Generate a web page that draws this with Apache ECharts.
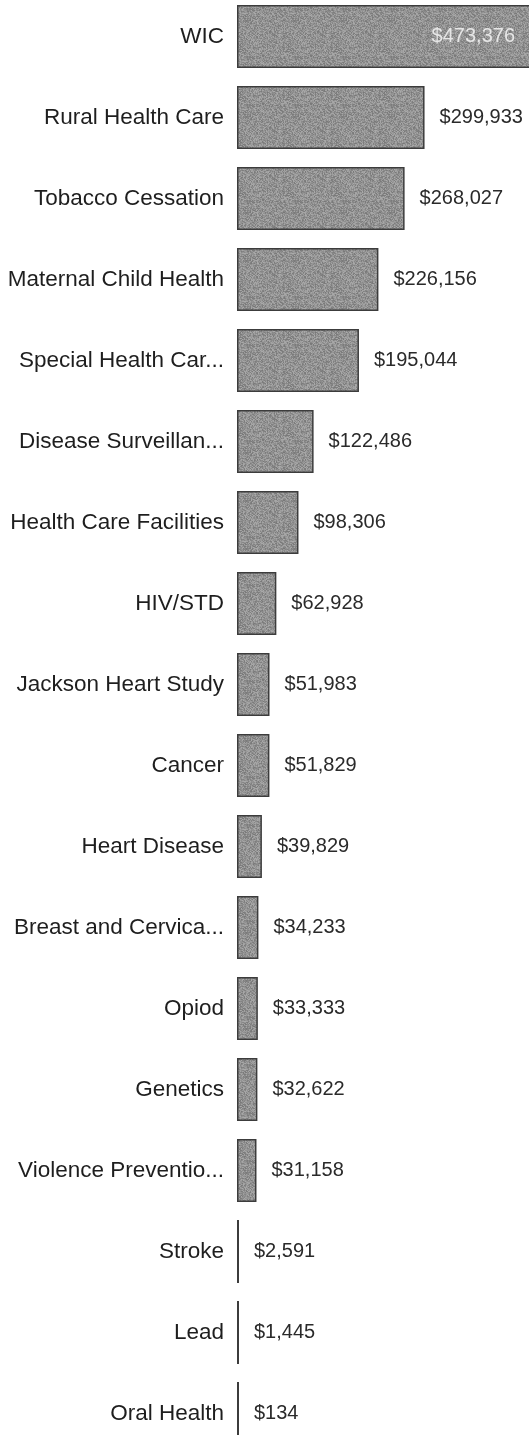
<!DOCTYPE html>
<html>
<head>
<meta charset="utf-8">
<script src="https://cdn.jsdelivr.net/npm/echarts@6/dist/echarts.min.js"></script>
<style>
  html, body { margin: 0; padding: 0; background: #ffffff; overflow: hidden; }
  /* chart box a bit bigger than the window: the scan cuts off the WIC bar and the bottom row */
  #funding { position: absolute; left: 0; top: -4px; width: 533px; height: 1458px; }
</style>
</head>
<body>
<div id="funding"></div>
<script>
// program names as printed (already cut off in the picture)
var programs = ['WIC', 'Rural Health Care', 'Tobacco Cessation', 'Maternal Child Health',
    'Special Health Car...', 'Disease Surveillan...', 'Health Care Facilities', 'HIV/STD',
    'Jackson Heart Study', 'Cancer', 'Heart Disease', 'Breast and Cervica...', 'Opiod',
    'Genetics', 'Violence Preventio...', 'Stroke', 'Lead', 'Oral Health'];
var amounts = [473376, 299933, 268027, 226156, 195044, 122486, 98306, 62928,
    51983, 51829, 39829, 34233, 33333, 32622, 31158, 2591, 1445, 134];
var xMax = 473376;

function money(v) {
    return '$' + v.toString().replace(/\B(?=(\d{3})+(?!\d))/g, ',');
}

// grainy photocopy look for the bar fill (fixed hash, no randomness)
function grain() {
    var c = document.createElement('canvas');
    c.width = 48; c.height = 48;
    var ctx = c.getContext('2d');
    var img = ctx.createImageData(48, 48);
    for (var y = 0; y < 48; y++) {
        for (var x = 0; x < 48; x++) {
            var h = Math.sin(x * 12.9898 + y * 78.233) * 43758.5453;
            h = h - Math.floor(h);
            var g = Math.round(120 + h * 50);
            var k = (y * 48 + x) * 4;
            img.data[k] = g; img.data[k + 1] = g; img.data[k + 2] = g; img.data[k + 3] = 255;
        }
    }
    ctx.putImageData(img, 0, 0);
    return c;
}

var chart = echarts.init(document.getElementById('funding'));

var barData = [];
for (var i = 0; i < amounts.length; i++) {
    var item = { value: amounts[i] };
    if (i === 0) {
        // biggest bar runs off the page, label sits inside it
        item.label = { position: 'insideRight', distance: 18, color: '#e6e6e6' };
    }
    barData.push(item);
}

var option = {
    backgroundColor: '#ffffff',
    animation: false,
    grid: {
        left: 237,
        right: 0,
        top: 0,
        bottom: 0
    },
    xAxis: {
        type: 'value',
        min: 0,
        max: xMax,
        show: false
    },
    yAxis: {
        type: 'category',
        inverse: true,
        data: programs,
        axisLine: { show: false },
        axisTick: { show: false },
        splitLine: { show: false },
        axisLabel: {
            margin: 13,
            color: '#1e1e1e',
            fontSize: 22.5,
            fontFamily: 'Liberation Sans'
        }
    },
    series: [
        {
            type: 'bar',
            data: barData,
            barCategoryGap: '22%',
            barMinHeight: 2,
            itemStyle: {
                color: { image: grain(), repeat: 'repeat' },
                borderColor: '#3c3c3c',
                borderWidth: 1.5
            },
            label: {
                show: true,
                position: 'right',
                distance: 15,
                color: '#2a2a2a',
                fontSize: 20,
                fontFamily: 'Liberation Sans',
                formatter: function (p) { return money(p.value); }
            }
        }
    ]
};
chart.setOption(option);
</script>
</body>
</html>
